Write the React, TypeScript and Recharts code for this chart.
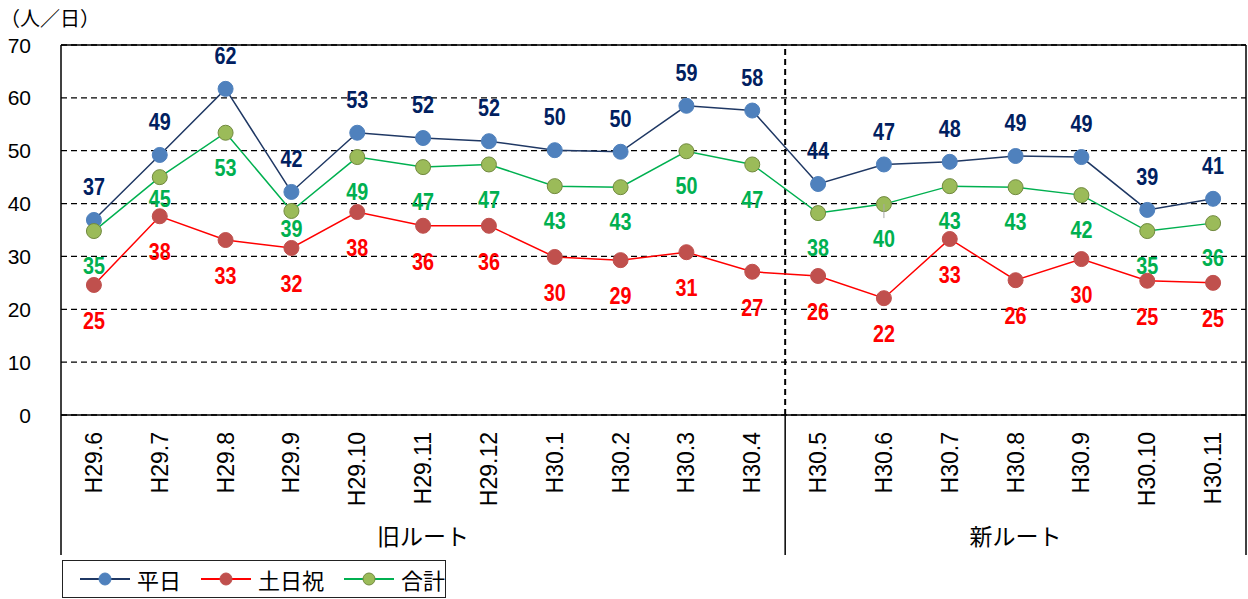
import { LineChart, Line, XAxis, YAxis, CartesianGrid, ReferenceLine, Legend, Label } from 'recharts';

const months = [
  'H29.6', 'H29.7', 'H29.8', 'H29.9', 'H29.10', 'H29.11', 'H29.12', 'H30.1', 'H30.2',
  'H30.3', 'H30.4', 'H30.5', 'H30.6', 'H30.7', 'H30.8', 'H30.9', 'H30.10', 'H30.11',
];
// 平日
const weekday = [36.9, 49.2, 61.7, 42.2, 53.4, 52.4, 51.8, 50.1, 49.8, 58.5, 57.6, 43.7, 47.4, 47.9, 49.0, 48.8, 38.8, 40.9];
// 土日祝
const holiday = [24.6, 37.6, 33.1, 31.6, 38.4, 35.8, 35.8, 29.9, 29.3, 30.8, 27.1, 26.3, 22.1, 33.3, 25.5, 29.5, 25.4, 25.0];
// 合計
const total = [34.8, 45.0, 53.4, 38.6, 48.8, 46.9, 47.4, 43.3, 43.1, 49.9, 47.4, 38.2, 39.9, 43.3, 43.1, 41.6, 34.8, 36.3];

const routeGroups = [
  { name: '旧ルート', first: 0, last: 10 },
  { name: '新ルート', first: 11, last: 17 },
];
const yTicks = [0, 10, 20, 30, 40, 50, 60, 70];

const W = 1248;
const H = 599;
const PLOT_LEFT = 61;
const PLOT_RIGHT = 1246;
const PLOT_BOTTOM = 415;
const GROUP_BOTTOM = 555;
const BAND = (PLOT_RIGHT - PLOT_LEFT) / months.length;

const NUM_FONT = '"Liberation Sans", Arial, sans-serif';
const JP_FONT = '"Noto Sans CJK JP", "Noto Sans", sans-serif';
const LABEL_FONT = '"Liberation Sans", Arial, sans-serif';

const series = [
  { key: 'weekday', name: '平日', line: '#1F3864', dot: '#4F81BD', dotStroke: '#4F81BD', text: '#002060' },
  { key: 'holiday', name: '土日祝', line: '#FF0000', dot: '#C0504D', dotStroke: '#C0504D', text: '#FF0000' },
  { key: 'total', name: '合計', line: '#00B050', dot: '#9BBB59', dotStroke: '#71893F', text: '#00B050' },
];

const data = months.map((m, i) => ({
  i,
  month: m,
  weekday: weekday[i],
  holiday: holiday[i],
  total: total[i],
}));

const MonthTick = (props: any) => {
  const { x, payload } = props;
  const i = payload.value as number;
  const ty = PLOT_BOTTOM + 17;
  const parts: any[] = [];
  parts.push(
    <text
      key="t"
      x={x}
      y={ty}
      transform={`rotate(-90, ${x}, ${ty})`}
      textAnchor="end"
      dominantBaseline="central"
      fill="#000"
      style={{ fontFamily: NUM_FONT, fontSize: 23 }}
    >
      {months[i]}
    </text>
  );
  if (i === 0) {
    parts.push(<line key="l0" x1={x - BAND / 2} x2={x - BAND / 2} y1={PLOT_BOTTOM} y2={GROUP_BOTTOM} stroke="#000" strokeWidth={1.5} />);
  }
  routeGroups.forEach((g, gi) => {
    if (g.last === i) {
      parts.push(<line key={`b${gi}`} x1={x + BAND / 2} x2={x + BAND / 2} y1={PLOT_BOTTOM} y2={GROUP_BOTTOM} stroke="#000" strokeWidth={1.5} />);
    }
    const mid = (g.first + g.last) / 2;
    if (Math.floor(mid) === i) {
      parts.push(
        <text
          key={`g${gi}`}
          x={x + (mid - i) * BAND}
          y={GROUP_BOTTOM - 20}
          textAnchor="middle"
          dominantBaseline="central"
          fill="#000"
          style={{ fontFamily: JP_FONT, fontSize: 23 }}
        >
          {g.name}
        </text>
      );
    }
  });
  return <g>{parts}</g>;
};

const ValueTick = (props: any) => {
  const { y, payload } = props;
  return (
    <text x={31} y={y} textAnchor="end" dominantBaseline="central" fill="#000" style={{ fontFamily: NUM_FONT, fontSize: 21 }}>
      {payload.value}
    </text>
  );
};

const makeLabel = (color: string, offset: number, overrides: Record<number, number> = {}, leaders: number[] = []) =>
  (props: any) => {
    const x = props.x ?? props.viewBox?.x;
    const y = props.y ?? props.viewBox?.y;
    const { value, index } = props;
    const dy = overrides[index] ?? offset;
    return (
      <g key={`lbl-${color}-${index}`}>
        {leaders.includes(index) && <line x1={x} x2={x} y1={y} y2={y + 14} stroke="#A6A6A6" strokeWidth={1} />}
        <text
          x={0}
          y={0}
          transform={`translate(${x}, ${y + dy}) scale(0.86, 1.05)`}
          textAnchor="middle"
          dominantBaseline="central"
          fill={color}
          style={{ fontFamily: LABEL_FONT, fontSize: 23, fontWeight: 700 }}
        >
          {Math.round(value)}
        </text>
      </g>
    );
  };

const labelRenderers: Record<string, any> = {
  weekday: makeLabel('#002060', -33),
  holiday: makeLabel('#FF0000', 36),
  total: makeLabel('#00B050', 35, { 1: 22, 3: 18 }, [12]),
};

const renderLegend = () => (
  <div
    style={{
      boxSizing: 'border-box',
      width: 384,
      height: 38,
      border: '1.5px solid #222',
      display: 'flex',
      alignItems: 'center',
      paddingLeft: 17,
      background: '#fff',
      whiteSpace: 'nowrap',
    }}
  >
    {series.map((s) => (
      <div key={s.key} style={{ display: 'flex', alignItems: 'center', marginRight: 20, flexShrink: 0 }}>
        <svg width={50} height={16} style={{ marginRight: 7, flexShrink: 0 }}>
          <line x1={0} x2={50} y1={8} y2={8} stroke={s.line} strokeWidth={2} />
          <circle cx={25} cy={8} r={6} fill={s.dot} stroke={s.dotStroke} strokeWidth={1} />
        </svg>
        <span style={{ fontFamily: JP_FONT, fontSize: 22, color: '#000', lineHeight: 1, whiteSpace: 'nowrap' }}>{s.name}</span>
      </div>
    ))}
  </div>
);

const App = () => {
  return (
    <div style={{ position: 'absolute', left: 0, top: 0, width: W, height: H, background: '#fff' }}>
      <LineChart width={W} height={H} data={data} margin={{ top: 45, right: W - PLOT_RIGHT, bottom: 44, left: 0 }}>
        <CartesianGrid horizontal vertical={false} stroke="#000" strokeWidth={1.3} strokeDasharray="6 4" />
        <XAxis
          dataKey="i"
          type="number"
          domain={[-0.5, months.length - 0.5]}
          ticks={months.map((_, i) => i)}
          interval={0}
          height={140}
          axisLine={false}
          tickLine={false}
          tick={<MonthTick />}
        />
        <YAxis
          type="number"
          domain={[0, 70]}
          ticks={yTicks}
          interval={0}
          width={PLOT_LEFT}
          axisLine={false}
          tickLine={false}
          tick={<ValueTick />}
        >
          <Label
            content={() => (
              <text x={0} y={17} dominantBaseline="central" fill="#000" style={{ fontFamily: JP_FONT, fontSize: 20 }}>
                （人／日）
              </text>
            )}
          />
        </YAxis>
        <ReferenceLine x={10.5} stroke="#000" strokeWidth={2} strokeDasharray="6 4" />
        <ReferenceLine y={70} stroke="#000" strokeWidth={1.5} />
        <ReferenceLine y={0} stroke="#000" strokeWidth={1.5} />
        <ReferenceLine x={-0.5} stroke="#000" strokeWidth={1.5} />
        <ReferenceLine x={months.length - 0.5} stroke="#000" strokeWidth={1.5} />
        {series.map((s) => (
          <Line
            key={s.key}
            type="linear"
            dataKey={s.key}
            name={s.name}
            stroke={s.line}
            strokeWidth={1.5}
            dot={{ r: 7.5, fill: s.dot, stroke: s.dotStroke, strokeWidth: 1 }}
            activeDot={false}
            isAnimationActive={false}
            label={labelRenderers[s.key]}
          />
        ))}
        <Legend
          layout="horizontal"
          verticalAlign="middle"
          align="center"
          content={renderLegend}
          wrapperStyle={{ left: 62, top: 560, width: 384, height: 38 }}
        />
      </LineChart>
    </div>
  );
};

export default App;
